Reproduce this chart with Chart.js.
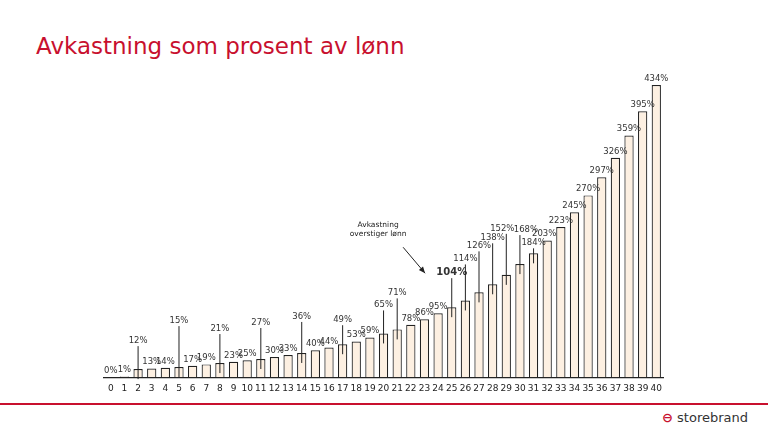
<!DOCTYPE html>
<html>
<head>
<meta charset="utf-8">
<script src="https://cdn.jsdelivr.net/npm/chart.js@4"></script>
<style>
  body { margin: 0; width: 768px; height: 432px; background: #fff; font-family: Verdana, "DejaVu Sans", sans-serif; position: relative; overflow: hidden; }
  h1 { position: absolute; left: 36px; top: 33px; margin: 0; font: 23px Verdana, "DejaVu Sans", sans-serif; color: #c8102e; font-weight: normal; }
  #wrap { position: absolute; left: 102px; top: 70px; width: 566px; height: 330px; }
  #redline { position: absolute; left: 0; top: 403px; width: 768px; height: 1.5px; background: #c8102e; }
  #logo { position: absolute; right: 20px; top: 410px; font: 13px "DejaVu Sans", sans-serif; color: #333; }
  #logo span { color: #c8102e; font-weight: bold; }
</style>
</head>
<body>
<h1>Avkastning som prosent av lønn</h1>
<div id="wrap"><canvas id="grafico"></canvas></div>
<div id="redline"></div>
<div id="logo"><span>⊖</span> storebrand</div>
<script>
const anos = [];
for (let i = 0; i <= 40; i++) anos.push(String(i));
const avkastning = [0, 1, 12, 13, 14, 15, 17, 19, 21, 23, 25, 27, 30, 33, 36, 40, 44, 49, 53, 59,
  65, 71, 78, 86, 95, 104, 114, 126, 138, 152, 168, 184, 203, 223, 245, 270, 297, 326, 359, 395, 434];
// hvor mye etiketten løftes (px), med strek ned til søylen
const loft = {2: 22, 5: 40, 8: 28, 11: 30, 14: 30, 17: 18, 20: 22, 21: 30, 25: 28, 26: 35, 27: 40, 28: 40, 29: 40, 30: 28, 31: 4};
const skyv = {29: -4, 30: 6, 32: -3};

const etiketter = {
  id: 'etiketter',
  afterDatasetsDraw(c) {
    const ctx = c.ctx;
    const meta = c.getDatasetMeta(0);
    ctx.save();
    ctx.textAlign = 'center';
    ctx.textBaseline = 'bottom';
    meta.data.forEach((bar, i) => {
      const l = loft[i] || 0;
      const y = bar.y - 2 - l;
      if (l) {
        ctx.strokeStyle = '#222'; ctx.lineWidth = 1;
        ctx.beginPath(); ctx.moveTo(bar.x, y + 1); ctx.lineTo(bar.x, bar.y + 10); ctx.stroke();
      }
      ctx.fillStyle = '#333';
      ctx.font = (i === 25 ? 'bold 10px' : '8.5px') + ' Verdana, "DejaVu Sans", sans-serif';
      ctx.fillText(avkastning[i] + '%', bar.x + (skyv[i] || 0), y);
    });
    // pil
    const x24 = meta.data[24].x, y24 = meta.data[24].y;
    ctx.font = '7.5px Verdana, "DejaVu Sans", sans-serif';
    ctx.fillStyle = '#222';
    ctx.fillText('Avkastning', x24 - 60, y24 - 84);
    ctx.fillText('overstiger lønn', x24 - 60, y24 - 75);
    ctx.strokeStyle = '#222'; ctx.lineWidth = 1;
    const x1 = x24 - 35, y1 = y24 - 66, x2 = x24 - 13, y2 = y24 - 40;
    ctx.beginPath(); ctx.moveTo(x1, y1); ctx.lineTo(x2, y2); ctx.stroke();
    const a = Math.atan2(y2 - y1, x2 - x1);
    ctx.beginPath();
    ctx.moveTo(x2, y2);
    ctx.lineTo(x2 - 7 * Math.cos(a - 0.4), y2 - 7 * Math.sin(a - 0.4));
    ctx.lineTo(x2 - 7 * Math.cos(a + 0.4), y2 - 7 * Math.sin(a + 0.4));
    ctx.closePath(); ctx.fill();
    ctx.restore();
  }
};

new Chart(document.getElementById('grafico'), {
  type: 'bar',
  data: {
    labels: anos,
    datasets: [{
      data: avkastning,
      backgroundColor: '#fdf0e2',
      borderColor: '#222',
      borderWidth: { top: 1.2, left: 1.2, right: 1.2, bottom: 0 },
      categoryPercentage: 0.68,
      barPercentage: 1
    }]
  },
  options: {
    animation: false,
    responsive: true,
    maintainAspectRatio: false,
    layout: { padding: { top: 15 } },
    plugins: { legend: { display: false }, tooltip: { enabled: false } },
    scales: {
      x: {
        grid: { display: false, drawTicks: false },
        border: { color: '#222', width: 1.2 },
        ticks: { color: '#222', font: { size: 9, family: 'Verdana, "DejaVu Sans", sans-serif' }, padding: 6, maxRotation: 0, autoSkip: false }
      },
      y: { display: false, min: 0, max: 434 }
    }
  },
  plugins: [etiketter]
});
</script>
</body>
</html>
